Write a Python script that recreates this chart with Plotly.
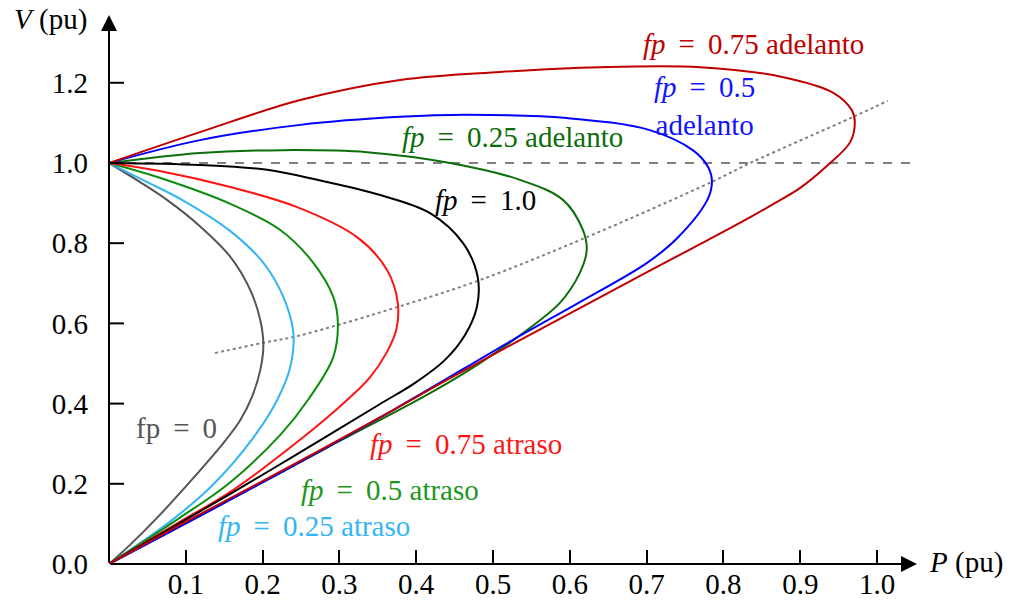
import plotly.graph_objects as go

# Curvas P-V: potencia activa P (pu) frente a tensión V (pu) para varios factores de potencia
p_fp0 = [0, 0.040, 0.0755, 0.118, 0.158, 0.184, 0.197, 0.201, 0.197, 0.186, 0.171, 0.152, 0.105, 0.0625, 0.027, 0]
v_fp0 = [1.0, 0.953, 0.908, 0.843, 0.766, 0.683, 0.608, 0.546, 0.484, 0.416, 0.359, 0.309, 0.204, 0.115, 0.047, 0]

p_025_atr = [0, 0.047, 0.095, 0.158, 0.201, 0.227, 0.240, 0.236, 0.219, 0.1875, 0.135, 0.079, 0]
v_025_atr = [1.0, 0.955, 0.908, 0.830, 0.751, 0.666, 0.576, 0.491, 0.409, 0.314, 0.197, 0.105, 0]

p_05_atr = [0, 0.066, 0.158, 0.223, 0.266, 0.292, 0.298, 0.292, 0.259, 0.223, 0.158, 0.092, 0]
v_05_atr = [1.0, 0.963, 0.898, 0.833, 0.751, 0.666, 0.601, 0.516, 0.409, 0.322, 0.204, 0.115, 0]

p_075_atr = [0, 0.066, 0.158, 0.245, 0.323, 0.362, 0.376, 0.374, 0.362, 0.340, 0.310, 0.245, 0.158, 0.092, 0]
v_075_atr = [1.0, 0.980, 0.940, 0.890, 0.815, 0.733, 0.651, 0.584, 0.529, 0.466, 0.409, 0.304, 0.180, 0.105, 0]

p_fp1 = [0, 0.1185, 0.206, 0.271, 0.353, 0.418, 0.461, 0.480, 0.479, 0.4635, 0.4375, 0.398, 0.353, 0.245, 0.158, 0]
v_fp1 = [1.0, 0.995, 0.983, 0.958, 0.920, 0.875, 0.800, 0.716, 0.641, 0.571, 0.509, 0.451, 0.399, 0.274, 0.175, 0]

p_025_ade = [0, 0.1185, 0.2266, 0.336, 0.444, 0.535, 0.591, 0.617, 0.622, 0.613, 0.587, 0.539, 0.483, 0.418, 0.288, 0.1445, 0]
v_025_ade = [1.0, 1.025, 1.032, 1.027, 1.000, 0.958, 0.908, 0.833, 0.783, 0.726, 0.651, 0.576, 0.501, 0.426, 0.294, 0.147, 0]

p_05_ade = [0, 0.1185, 0.249, 0.379, 0.466, 0.596, 0.704, 0.760, 0.780, 0.785, 0.779, 0.740, 0.7005, 0.613, 0.526, 0.370, 0.2005, 0]
v_05_ade = [1.0, 1.057, 1.095, 1.115, 1.120, 1.112, 1.082, 1.032, 0.990, 0.953, 0.908, 0.813, 0.751, 0.653, 0.559, 0.384, 0.204, 0]

p_075_ade = [0, 0.1185, 0.249, 0.379, 0.509, 0.639, 0.770, 0.878, 0.943, 0.967, 0.971, 0.965, 0.936, 0.900, 0.867, 0.835,
             0.770, 0.7005, 0.613, 0.526, 0.440, 0.370, 0.2005, 0.092, 0]
v_075_ade = [1.0, 1.077, 1.157, 1.207, 1.227, 1.239, 1.239, 1.214, 1.175, 1.132, 1.102, 1.052, 0.995, 0.938, 0.900, 0.865,
             0.798, 0.728, 0.638, 0.549, 0.459, 0.384, 0.207, 0.097, 0]

# Lugar geométrico de los puntos de máxima transferencia (narices)
p_nariz = [0.138, 0.199, 0.240, 0.298, 0.376, 0.483, 0.622, 0.785, 0.835, 0.969, 1.014]
v_nariz = [0.526, 0.551, 0.566, 0.596, 0.641, 0.708, 0.815, 0.953, 1.000, 1.115, 1.155]

# Referencia V = 1.0 pu
p_ref = [0, 1.059]
v_ref = [1.0, 1.0]

x_ticks = [0.1, 0.2, 0.3, 0.4, 0.5, 0.6, 0.7, 0.8, 0.9, 1.0]
y_ticks = [0.0, 0.2, 0.4, 0.6, 0.8, 1.0, 1.2]

X_MAX = 1.052
Y_MAX = 1.369
FONT = "Liberation Serif"
FS = 29
EQ = "\u2009=\u2009"

curves = [
    (p_fp0, v_fp0, "#555555"),
    (p_025_atr, v_025_atr, "#33b5f5"),
    (p_05_atr, v_05_atr, "#0c8c0c"),
    (p_075_atr, v_075_atr, "#ff1414"),
    (p_fp1, v_fp1, "#000000"),
    (p_025_ade, v_025_ade, "#0b6e0b"),
    (p_05_ade, v_05_ade, "#0000ff"),
    (p_075_ade, v_075_ade, "#c00000"),
]

fig = go.Figure()

fig.add_trace(go.Scatter(x=p_ref, y=v_ref, mode="lines",
                         line=dict(color="#808080", width=2, dash="dash"),
                         hoverinfo="skip"))
fig.add_trace(go.Scatter(x=p_nariz, y=v_nariz, mode="lines",
                         line=dict(color="#808080", width=2, dash="dot", shape="spline"),
                         hoverinfo="skip"))

for px, vy, col in curves:
    fig.add_trace(go.Scatter(x=px, y=vy, mode="lines",
                             line=dict(color=col, width=2, shape="spline", smoothing=1.0),
                             hoverinfo="skip", cliponaxis=False))

labels = [
    (0.839, 1.297, f"<i>fp</i> {EQ} 0.75 adelanto", "#c00000"),
    (0.775, 1.142, f"<i>fp</i> {EQ} 0.5<br>adelanto", "#1414ff"),
    (0.525, 1.065, f"<i>fp</i> {EQ} 0.25 adelanto", "#0b6e0b"),
    (0.490, 0.908, f"<i>fp</i> {EQ} 1.0", "#000000"),
    (0.0885, 0.339, f"fp {EQ} 0", "#555555"),
    (0.465, 0.299, f"<i>fp</i> {EQ} 0.75 atraso", "#ff1414"),
    (0.366, 0.185, f"<i>fp</i> {EQ} 0.5 atraso", "#1e961e"),
    (0.267, 0.095, f"<i>fp</i> {EQ} 0.25 atraso", "#33b5f5"),
]

annotations = []
for x, y, txt, col in labels:
    annotations.append(dict(x=x, y=y, xref="x", yref="y", text=txt, showarrow=False,
                            font=dict(family=FONT, size=FS, color=col),
                            xanchor="center", yanchor="middle"))

# Ejes con punta de flecha
annotations.append(dict(x=X_MAX, y=0, ax=0, ay=0, xref="x", yref="y", axref="x", ayref="y",
                        text="", showarrow=True, arrowhead=2, arrowsize=1.6, arrowwidth=2,
                        arrowcolor="black", standoff=0, startstandoff=0))
annotations.append(dict(x=0, y=Y_MAX, ax=0, ay=0, xref="x", yref="y", axref="x", ayref="y",
                        text="", showarrow=True, arrowhead=2, arrowsize=1.6, arrowwidth=2,
                        arrowcolor="black", standoff=0, startstandoff=0))

# Títulos de los ejes
annotations.append(dict(x=1.061, y=0.002, xref="paper", yref="paper", text="<i>P</i> (pu)",
                        showarrow=False, font=dict(family=FONT, size=FS, color="black"),
                        xanchor="center", yanchor="middle"))
annotations.append(dict(x=-0.073, y=0.991, xref="paper", yref="paper", text="<i>V</i> (pu)",
                        showarrow=False, font=dict(family=FONT, size=FS, color="black"),
                        xanchor="center", yanchor="middle"))

# Marcas del eje V que cruzan el eje
shapes = []
for v in y_ticks[1:]:
    shapes.append(dict(type="line", xref="x", yref="y", xsizemode="pixel", xanchor=0,
                       x0=-15, x1=15, y0=v, y1=v, line=dict(color="black", width=2)))

fig.update_layout(
    width=1014, height=614,
    margin=dict(l=109, r=97, t=15, b=50),
    paper_bgcolor="white", plot_bgcolor="white",
    showlegend=False,
    annotations=annotations,
    shapes=shapes,
    xaxis=dict(range=[0, X_MAX], showgrid=False, zeroline=False, showline=False,
               tickmode="array", tickvals=x_ticks, ticktext=[f"{t:.1f}" for t in x_ticks],
               ticks="inside", ticklen=14, tickwidth=2, tickcolor="black",
               tickfont=dict(family=FONT, size=FS, color="black")),
    yaxis=dict(range=[0, Y_MAX], showgrid=False, zeroline=False, showline=False,
               tickmode="array", tickvals=y_ticks, ticktext=[f"{t:.1f}" for t in y_ticks],
               ticks="", ticklabelstandoff=20,
               tickfont=dict(family=FONT, size=FS, color="black")),
)

fig.write_html("out.html")
